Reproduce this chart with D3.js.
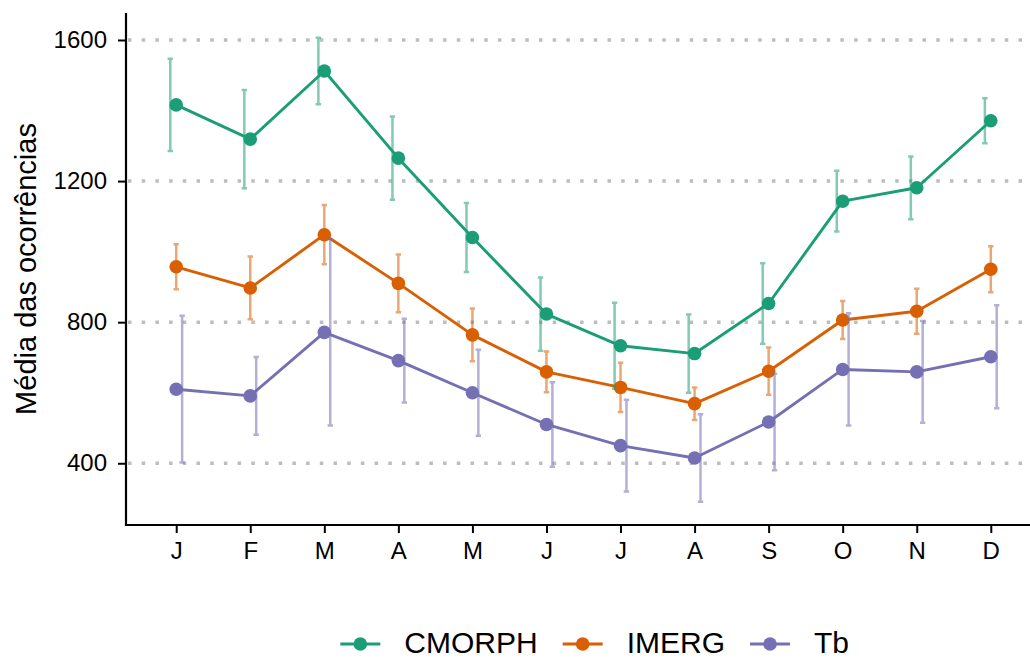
<!DOCTYPE html>
<html>
<head>
<meta charset="utf-8">
<script src="https://cdn.jsdelivr.net/npm/d3@7"></script>
<style>
  html, body { margin: 0; padding: 0; background: #fff; }
  svg { display: block; font-family: "Liberation Sans", Arial, Helvetica, sans-serif; }
</style>
</head>
<body>
<svg id="chart" width="1030" height="660"></svg>
<script>
// Monthly mean occurrences (± standard deviation) per product
const months = ["J", "F", "M", "A", "M", "J", "J", "A", "S", "O", "N", "D"];
const seriesNames = ["CMORPH", "IMERG", "Tb"];
const seriesColors = ["#1B9E77", "#D95F02", "#7570B3"];

const cmorphMean = [1416, 1319, 1512, 1265, 1040, 823, 733, 711, 853, 1143, 1181, 1371];
const cmorphSd   = [131, 139, 94, 118, 98, 104, 122, 111, 114, 86, 89, 64];
const imergMean  = [957, 897, 1048, 910, 764, 659, 615, 569, 661, 806, 831, 950];
const imergSd    = [64, 89, 84, 82, 75, 58, 70, 46, 67, 54, 64, 65];
const tbMean     = [610, 591, 771, 691, 600, 510, 450, 415, 517, 666, 659, 702];
const tbSd       = [208, 110, 264, 119, 122, 120, 130, 124, 137, 159, 144, 146];

const yTicks = [400, 800, 1200, 1600];
const yTitle = "Média das ocorrências";

const means = [cmorphMean, imergMean, tbMean];
const sds = [cmorphSd, imergSd, tbSd];

const series = seriesNames.map((name, s) => ({
  name,
  color: seriesColors[s],
  dodge: s - 1,
  values: months.map((m, i) => ({ i, mean: means[s][i], sd: sds[s][i] }))
}));

const svg = d3.select("#chart");

// Panel geometry
const panel = { left: 126, right: 1030, top: 13, bottom: 525 };

const x = d3.scalePoint()
  .domain(d3.range(months.length))
  .range([panel.left, 1041])
  .padding(0.678);

const y = d3.scaleLinear()
  .domain([225, 1676.5])
  .range([panel.bottom, panel.top]);

const dodge = x.step() * 0.08;
const fontStack = "Liberation Sans, Arial, Helvetica, sans-serif";

// Horizontal dotted grid lines
svg.append("g")
  .selectAll("line")
  .data(yTicks)
  .join("line")
  .attr("x1", panel.left + 2)
  .attr("x2", panel.right)
  .attr("y1", d => y(d))
  .attr("y2", d => y(d))
  .attr("stroke", "#bdbdbd")
  .attr("stroke-width", 3.5)
  .attr("stroke-dasharray", "3.5,10.2");

// Y axis
const yAxis = svg.append("g")
  .attr("transform", `translate(${panel.left},0)`)
  .call(d3.axisLeft(y).tickValues(yTicks).tickFormat(d3.format("d"))
    .tickSize(8).tickPadding(11).tickSizeOuter(0));
yAxis.select(".domain").remove();
yAxis.selectAll(".tick line").attr("stroke", "#000").attr("stroke-width", 2);
yAxis.selectAll(".tick text")
  .attr("fill", "#000")
  .style("font-size", "24px")
  .style("font-family", fontStack);

// X axis
const xAxis = svg.append("g")
  .attr("transform", `translate(0,${panel.bottom})`)
  .call(d3.axisBottom(x).tickFormat(i => months[i]).tickSize(8).tickPadding(9).tickSizeOuter(0));
xAxis.select(".domain").remove();
xAxis.selectAll(".tick line").attr("stroke", "#000").attr("stroke-width", 2);
xAxis.selectAll(".tick text")
  .attr("fill", "#000")
  .style("font-size", "24px")
  .style("font-family", fontStack);

// Axis lines
svg.append("path")
  .attr("d", `M${panel.left},${panel.top}V${panel.bottom}H${panel.right}`)
  .attr("fill", "none")
  .attr("stroke", "#000")
  .attr("stroke-width", 2.2);

// Y axis title
svg.append("text")
  .attr("transform", `translate(36,${(panel.top + panel.bottom) / 2}) rotate(-90)`)
  .attr("text-anchor", "middle")
  .style("font-size", "29px")
  .attr("fill", "#000")
  .text(yTitle);

// Lines
const line = d3.line()
  .x(d => x(d.i))
  .y(d => y(d.mean));

svg.append("g")
  .selectAll("path")
  .data(series)
  .join("path")
  .attr("d", d => line(d.values))
  .attr("fill", "none")
  .attr("stroke", d => d.color)
  .attr("stroke-width", 2.9)
  .attr("stroke-linejoin", "round");

// Points
svg.append("g")
  .selectAll("g")
  .data(series)
  .join("g")
  .attr("fill", d => d.color)
  .selectAll("circle")
  .data(d => d.values)
  .join("circle")
  .attr("cx", d => x(d.i))
  .attr("cy", d => y(d.mean))
  .attr("r", 6.8);

// Error bars (mean ± sd), dodged per series
const capHalf = 2.7;
const ebGroups = svg.append("g")
  .selectAll("g")
  .data(series)
  .join("g")
  .attr("stroke", d => d.color)
  .attr("stroke-opacity", 0.55)
  .attr("stroke-width", 2.5)
  .attr("fill", "none");

ebGroups.selectAll("path")
  .data(d => d.values.map(v => ({ ...v, off: d.dodge * dodge })))
  .join("path")
  .attr("d", d => {
    const cx = x(d.i) + d.off;
    const y0 = y(d.mean + d.sd), y1 = y(d.mean - d.sd);
    return `M${cx - capHalf},${y0}H${cx + capHalf}M${cx},${y0}V${y1}M${cx - capHalf},${y1}H${cx + capHalf}`;
  });

// Legend at the bottom, centred
const legendY = 644;
const keyW = 40, keyGap = 24, itemGap = 25;
const legend = svg.append("g");
const items = legend.selectAll("g")
  .data(series)
  .join("g");

items.append("line")
  .attr("x1", 0).attr("x2", keyW)
  .attr("y1", legendY).attr("y2", legendY)
  .attr("stroke", d => d.color)
  .attr("stroke-width", 2.9);
items.append("circle")
  .attr("cx", keyW / 2).attr("cy", legendY)
  .attr("r", 6.8)
  .attr("fill", d => d.color);
items.append("text")
  .attr("x", keyW + keyGap)
  .attr("y", 653)
  .style("font-size", "30px")
  .attr("fill", "#000")
  .text(d => d.name);

const widths = [];
items.each(function () {
  widths.push(keyW + keyGap + d3.select(this).select("text").node().getComputedTextLength());
});
const total = d3.sum(widths) + itemGap * (widths.length - 1);
let cursor = 594.7 - total / 2;
items.attr("transform", (d, k) => {
  const t = `translate(${cursor},0)`;
  cursor += widths[k] + itemGap;
  return t;
});
</script>
</body>
</html>
